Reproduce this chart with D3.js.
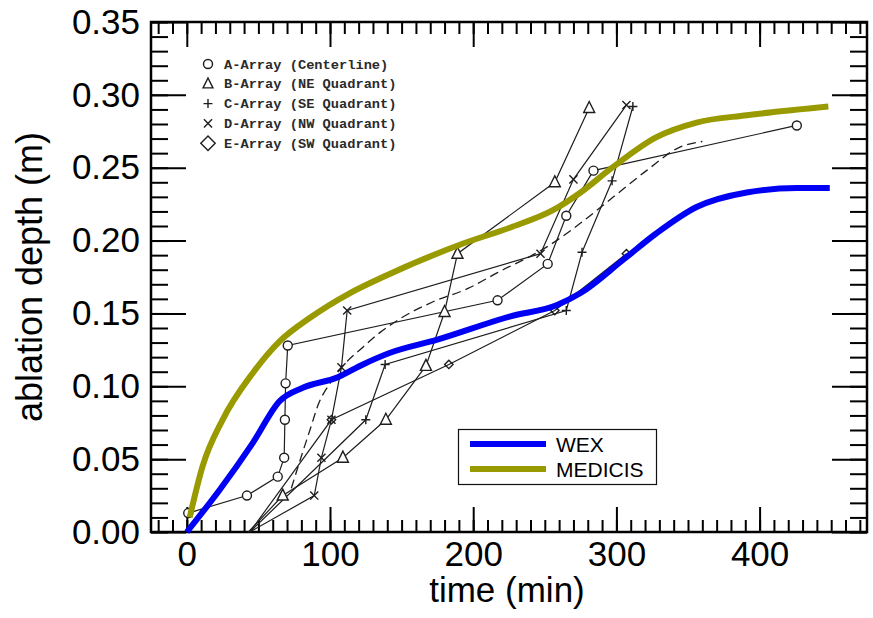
<!DOCTYPE html>
<html><head><meta charset="utf-8">
<script src="https://cdn.jsdelivr.net/npm/d3@7"></script>
<style>body{margin:0;background:#fff}svg{display:block}</style>
</head><body>
<svg id="c" width="873" height="618"></svg>
<script>
// ---- data ----
const xMajorTicks = [0, 100, 200, 300, 400];
const yMajorTicks = [0, 0.05, 0.10, 0.15, 0.20, 0.25, 0.30, 0.35];
const yTickLabels = ["0.00","0.05","0.10","0.15","0.20","0.25","0.30","0.35"];

const wexTime = [0, 23, 46, 65, 81, 105, 123, 142, 175, 226, 259, 275, 305, 328, 356, 391, 426, 449];
const wexDepth = [0, 0.029, 0.061, 0.090, 0.099, 0.106, 0.115, 0.123, 0.132, 0.148, 0.156, 0.164, 0.187, 0.205, 0.223, 0.233, 0.236, 0.236];
const medTime = [2, 11, 25, 46, 65, 86, 114, 137, 193, 226, 256, 275, 297, 328, 356, 391, 448];
const medDepth = [0.010, 0.045, 0.077, 0.109, 0.131, 0.147, 0.164, 0.175, 0.198, 0.209, 0.221, 0.233, 0.250, 0.271, 0.281, 0.286, 0.292];

const aTime = [1, 42, 63.5, 68, 68.5, 69, 70.5, 217, 252, 265, 284, 426];
const aDepth = [0.013, 0.025, 0.038, 0.051, 0.077, 0.102, 0.128, 0.159, 0.184, 0.217, 0.248, 0.279];
const bTime = [43, 67, 109, 139, 167, 180, 189, 257, 281];
const bDepth = [0, 0.025, 0.051, 0.077, 0.114, 0.151, 0.191, 0.240, 0.291];
const cTime = [44, 125, 138.5, 265, 276, 297, 311.5];
const cDepth = [0, 0.077, 0.115, 0.152, 0.192, 0.241, 0.292];
const dTime = [44, 89, 94, 101, 108, 112, 247, 270, 307];
const dDepth = [0, 0.025, 0.051, 0.077, 0.113, 0.152, 0.191, 0.242, 0.293];
const eTime = [44, 101, 183, 257, 307];
const eDepth = [0, 0.077, 0.115, 0.152, 0.191];
const dashTime = [73, 80, 86, 92, 100, 110, 122, 135, 150, 172, 196, 217, 252, 275, 298, 321, 344, 360];
const dashDepth = [0.030, 0.052, 0.070, 0.088, 0.102, 0.115, 0.126, 0.137, 0.147, 0.158, 0.167, 0.178, 0.196, 0.212, 0.230, 0.248, 0.264, 0.268];

const arrayLabels = ["A-Array (Centerline)", "B-Array (NE Quadrant)", "C-Array (SE Quadrant)", "D-Array (NW Quadrant)", "E-Array (SW Quadrant)"];
const arrayMarkers = ["circle", "triangle", "plus", "cross", "diamond"];
const modelNames = ["WEX", "MEDICIS"];
const modelColors = ["#0000f5", "#999900"];

// ---- layout ----
const L = 151, R = 867, T = 22, B = 532;
const svg = d3.select("#c");
const x = d3.scaleLinear().domain([-25, 475]).range([L, R]);
const y = d3.scaleLinear().domain([0, 0.35]).range([B, T]);
const ink = "#1e1e1e";
const font = "'Liberation Sans', Arial, sans-serif";
const fs = 35;

const xMinor = d3.range(-20, 475, 10);
const yMinor = d3.range(0, 0.3501, 0.01);

function styleAxis(g) {
  g.select(".domain").remove();
  g.selectAll(".tick line").attr("stroke", "#000").attr("stroke-width", 2);
  g.selectAll("text").attr("font-family", font).attr("font-size", fs).attr("fill", "#000");
}
// bottom
svg.append("g").attr("transform", `translate(0,${B})`)
  .call(d3.axisBottom(x).tickValues(xMinor).tickSizeInner(-12).tickSizeOuter(0).tickFormat(""))
  .call(styleAxis);
svg.append("g").attr("transform", `translate(0,${B})`)
  .call(d3.axisBottom(x).tickValues(xMajorTicks).tickSizeInner(-25).tickSizeOuter(0).tickPadding(9).tickFormat(d3.format("d")))
  .call(styleAxis);
// top
svg.append("g").attr("transform", `translate(0,${T})`)
  .call(d3.axisTop(x).tickValues(xMinor).tickSizeInner(-12).tickSizeOuter(0).tickFormat(""))
  .call(styleAxis);
svg.append("g").attr("transform", `translate(0,${T})`)
  .call(d3.axisTop(x).tickValues(xMajorTicks).tickSizeInner(-25).tickSizeOuter(0).tickFormat(""))
  .call(styleAxis);
// left
svg.append("g").attr("transform", `translate(${L},0)`)
  .call(d3.axisLeft(y).tickValues(yMinor).tickSizeInner(-17).tickSizeOuter(0).tickFormat(""))
  .call(styleAxis);
svg.append("g").attr("transform", `translate(${L},0)`)
  .call(d3.axisLeft(y).tickValues(yMajorTicks).tickSizeInner(-35).tickSizeOuter(0).tickPadding(11)
    .tickFormat((d, i) => yTickLabels[i]))
  .call(styleAxis);
// right
svg.append("g").attr("transform", `translate(${R},0)`)
  .call(d3.axisRight(y).tickValues(yMinor).tickSizeInner(-17).tickSizeOuter(0).tickFormat(""))
  .call(styleAxis);
svg.append("g").attr("transform", `translate(${R},0)`)
  .call(d3.axisRight(y).tickValues(yMajorTicks).tickSizeInner(-35).tickSizeOuter(0).tickFormat(""))
  .call(styleAxis);

svg.append("rect").attr("x", L).attr("y", T).attr("width", R - L).attr("height", B - T)
  .attr("fill", "none").attr("stroke", "#000").attr("stroke-width", 2.5);

// axis titles
svg.append("text").attr("x", 507).attr("y", 602).attr("text-anchor", "middle")
  .attr("font-family", font).attr("font-size", fs).text("time (min)");
svg.append("text").attr("transform", "translate(42,277) rotate(-90)").attr("text-anchor", "middle")
  .attr("font-family", font).attr("font-size", 36).text("ablation depth (m)");

// ---- scanned experimental data ----
const plot = svg.append("g");
function marker(g, type, cx, cy, s) {
  let el;
  if (type === "circle") el = g.append("circle").attr("cx", cx).attr("cy", cy).attr("r", s * 0.5).attr("fill", "#fff");
  else if (type === "triangle") el = g.append("path").attr("d", `M${cx},${cy - s * 0.65}L${cx + s * 0.55},${cy + s * 0.45}L${cx - s * 0.55},${cy + s * 0.45}Z`).attr("fill", "#fff");
  else if (type === "plus") el = g.append("path").attr("d", `M${cx - s / 2},${cy}H${cx + s / 2}M${cx},${cy - s / 2}V${cy + s / 2}`).attr("fill", "none");
  else if (type === "cross") el = g.append("path").attr("d", `M${cx - s * 0.45},${cy - s * 0.45}L${cx + s * 0.45},${cy + s * 0.45}M${cx - s * 0.45},${cy + s * 0.45}L${cx + s * 0.45},${cy - s * 0.45}`).attr("fill", "none");
  else el = g.append("path").attr("d", `M${cx},${cy - s * 0.6}L${cx + s * 0.6},${cy}L${cx},${cy + s * 0.6}L${cx - s * 0.6},${cy}Z`).attr("fill", "none");
  el.attr("stroke", ink).attr("stroke-width", 1.4);
}
const lineGen = d3.line().x(d => x(d[0])).y(d => y(d[1]));
const series = [
  [aTime, aDepth, "circle", 9],
  [bTime, bDepth, "triangle", 10],
  [cTime, cDepth, "plus", 9],
  [dTime, dDepth, "cross", 9],
  [eTime, eDepth, "diamond", 7]
];
series.forEach(([t, d]) => {
  const pts = t.map((v, i) => [v, d[i]]);
  plot.append("path").attr("d", lineGen(pts)).attr("fill", "none").attr("stroke", ink).attr("stroke-width", 1.2);
});
const dashPts = dashTime.map((v, i) => [v, dashDepth[i]]);
plot.append("path").attr("d", d3.line().x(d => x(d[0])).y(d => y(d[1])).curve(d3.curveMonotoneX)(dashPts))
  .attr("fill", "none").attr("stroke", ink).attr("stroke-width", 1.3).attr("stroke-dasharray", "9,5");
series.forEach(([t, d, m, s]) => {
  t.forEach((v, i) => { if (d[i] > 0.003) marker(plot, m, x(v), y(d[i]), s); });
});

// scanned legend
arrayLabels.forEach((lab, i) => {
  const yy = 64 + i * 19.8;
  marker(svg, arrayMarkers[i], 208, yy, i === 4 ? 12 : 9);
  svg.append("text").attr("x", 224).attr("y", yy + 4.5).attr("font-family", "'Liberation Mono', 'DejaVu Sans Mono', monospace")
    .attr("font-size", 13.7).attr("font-weight", "bold").attr("fill", "#2a2a2a").text(lab);
});

// ---- model curves ----
const curve = d3.line().x(d => x(d[0])).y(d => y(d[1])).curve(d3.curveMonotoneX);
svg.append("path").attr("d", curve(wexTime.map((v, i) => [v, wexDepth[i]])))
  .attr("fill", "none").attr("stroke", modelColors[0]).attr("stroke-width", 6);
svg.append("path").attr("d", curve(medTime.map((v, i) => [v, medDepth[i]])))
  .attr("fill", "none").attr("stroke", modelColors[1]).attr("stroke-width", 6);

// model legend
const lg = svg.append("g");
lg.append("rect").attr("x", 458.5).attr("y", 429.5).attr("width", 198).attr("height", 55)
  .attr("fill", "#fff").attr("stroke", "#111").attr("stroke-width", 1.2);
modelNames.forEach((n, i) => {
  const yy = 444 + i * 25;
  lg.append("line").attr("x1", 470).attr("x2", 546).attr("y1", yy).attr("y2", yy)
    .attr("stroke", modelColors[i]).attr("stroke-width", 6);
  lg.append("text").attr("x", 556).attr("y", yy + 7.5).attr("font-family", font).attr("font-size", 21).text(n);
});
</script>
</body></html>
